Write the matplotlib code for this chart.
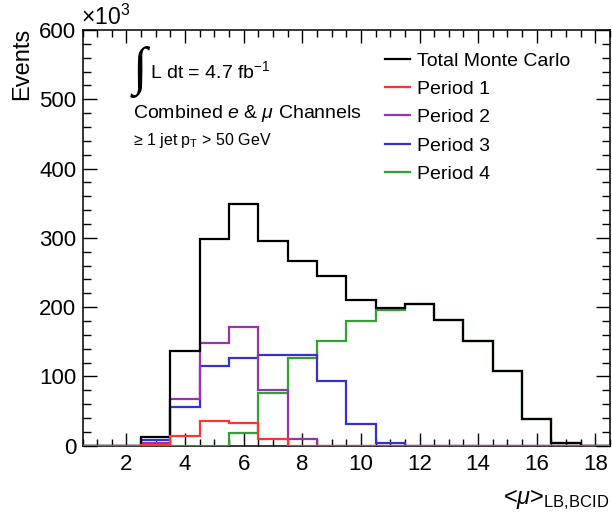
import numpy as np
import matplotlib
matplotlib.use("Agg")
import matplotlib.pyplot as plt
from matplotlib.lines import Line2D
from matplotlib.ticker import MultipleLocator

plt.rcParams['font.family'] = ['Liberation Sans', 'DejaVu Sans']
plt.rcParams['mathtext.fontset'] = 'custom'
plt.rcParams['mathtext.rm'] = 'Liberation Sans'
plt.rcParams['mathtext.it'] = 'Liberation Sans:italic'
plt.rcParams['mathtext.bf'] = 'Liberation Sans:bold'

# <mu> bin centres (bins of width 1) and event counts in units of 10^3
mu_centers = [1, 2, 3, 4, 5, 6, 7, 8, 9, 10, 11, 12, 13, 14, 15, 16, 17, 18]
total_mc = [0, 0, 12, 137, 298, 349, 296, 267, 245, 211, 199, 204, 181, 151, 108, 39, 4, 0]
period_1 = [0, 0, 0.5, 14, 36, 33, 9, 0, 0, 0, 0, 0, 0, 0, 0, 0, 0, 0]
period_2 = [0, 0, 3.5, 68, 148, 172, 81, 9, 0, 0, 0, 0, 0, 0, 0, 0, 0, 0]
period_3 = [0, 0, 8, 56, 115, 126, 131, 131, 94, 31, 4, 0, 0, 0, 0, 0, 0, 0]
period_4 = [0, 0, 0, 0, 0, 19, 76, 127, 151, 180, 196, 204, 181, 151, 108, 39, 4, 0]

labels = ["Total Monte Carlo", "Period 1", "Period 2", "Period 3", "Period 4"]
colors = ["#000000", "#ff3333", "#9933aa", "#3333cc", "#33a033"]

centers = np.asarray(mu_centers, dtype=float)
edges = np.append(centers - 0.5, centers[-1] + 0.5)

fig = plt.figure(figsize=(6.12, 5.2), dpi=100)
ax = fig.add_axes([82.5 / 612, 1 - 445.7 / 520, (610 - 82.5) / 612, (445.7 - 30) / 520])

series = [total_mc, period_1, period_2, period_3, period_4]
draw_order = [4, 3, 2, 0, 1]
for i in draw_order:
    ax.stairs(series[i], edges, color=colors[i], linewidth=1.6, baseline=0,
              zorder=3 + draw_order.index(i))

ax.set_xlim(0.5, 18.5)
ax.set_ylim(0, 600)

ax.xaxis.set_major_locator(MultipleLocator(2))
ax.xaxis.set_minor_locator(MultipleLocator(0.5))
ax.yaxis.set_major_locator(MultipleLocator(100))
ax.yaxis.set_minor_locator(MultipleLocator(20))

ax.tick_params(which='both', direction='in', top=True, right=True, width=1.0)
ax.tick_params(axis='x', which='major', length=9.5, pad=6, labelsize=16)
ax.tick_params(axis='x', which='minor', length=5)
ax.tick_params(axis='y', which='major', length=10, pad=4.5, labelsize=16)
ax.tick_params(axis='y', which='minor', length=5.5)
for s in ax.spines.values():
    s.set_linewidth(1.1)

# axis titles
fig.text(81 / 612, 1 - 25 / 520, r"$\times$10$^{3}$", fontsize=16.5,
         ha='left', va='baseline')
fig.text(22 / 612, 1 - 28 / 520, "Events", rotation=90, fontsize=17,
         ha='center', va='top')
fig.text(609 / 612, 1 - 504 / 520, r"<$\mathit{\mu}$>$_{\mathrm{LB{,}BCID}}$",
         fontsize=17, ha='right', va='baseline')

# luminosity and selection labels
fig.text(133 / 612, 1 - 84 / 520, "\u222b", fontsize=38,
         family=['Liberation Serif', 'DejaVu Serif'], ha='left', va='baseline')
fig.text(150 / 612, 1 - 78 / 520, r"L dt = 4.7 fb$^{-1}$", fontsize=14,
         ha='left', va='baseline')
fig.text(133 / 612, 1 - 118 / 520, r"Combined $e$ & $\mu$ Channels", fontsize=14,
         ha='left', va='baseline')
fig.text(133 / 612, 1 - 145 / 520, "\u2265 1 jet p$_{\\mathrm{T}}$ > 50 GeV",
         fontsize=11.5, ha='left', va='baseline')

handles = [Line2D([], [], color=c, linewidth=1.6) for c in colors]
ax.legend(handles, labels, loc='upper left', frameon=False, fontsize=14,
          bbox_to_anchor=(385 / 612, 1 - 52 / 520), bbox_transform=fig.transFigure,
          borderpad=0, borderaxespad=0, handlelength=1.3, handletextpad=0.35,
          labelspacing=0.55)

fig.savefig("out.png", dpi=100)
